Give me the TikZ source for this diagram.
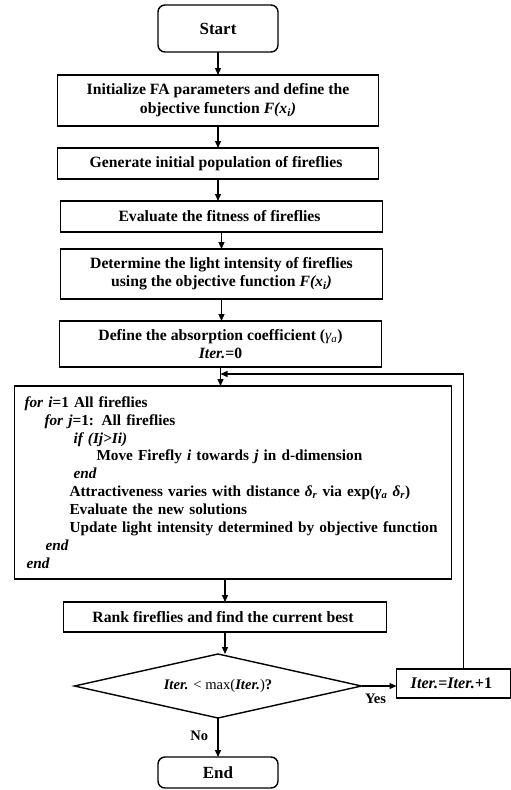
\documentclass[tikz,border=0pt]{standalone}
\usepackage{fontspec}
\setmainfont{Liberation Serif}
\usepackage{tikz}
\usetikzlibrary{positioning}
\usetikzlibrary{arrows.meta,shapes.geometric}

\begin{document}
\begin{tikzpicture}[
  font=\fontsize{15.7}{19}\selectfont\bfseries,
  box/.style={draw, line width=1.4pt, outer sep=0pt, minimum width=321pt, align=center, inner sep=2pt},
  term/.style={box, rounded corners=7pt, minimum width=120pt, font=\fontsize{17}{19}\selectfont\bfseries},
  arr/.style={-{Triangle[length=7pt,width=6pt]}, line width=1.3pt},
]
\useasboundingbox (0,0) rectangle (511pt,-790pt);
\node[term, minimum height=47pt] at (218pt,-28.5pt) (n0) {Start};
\node[box, minimum height=51pt, below=23pt of n0] (n1) {
  Initialize FA parameters and define the\\
  objective function \textit{F(x\textsubscript{i})}
};
\node[box, minimum height=31pt, below=22pt of n1] (n2) {
  Generate initial population of fireflies
};
\node[box, minimum width=322pt, minimum height=31pt, below=22pt of n2, xshift=3.5pt] (n3) {
  Evaluate the fitness of fireflies
};
\node[box, minimum width=322pt, minimum height=50pt, below=17pt of n3, font=\fontsize{15.7}{18}\selectfont\bfseries] (n4) {
  Determine the light intensity of fireflies\\
  using the objective function \textit{F(x\textsubscript{i})}
};
\node[box, minimum width=322pt, minimum height=46pt, below=22pt of n4, xshift=-1pt, font=\fontsize{15.7}{18}\selectfont\bfseries] (n5) {
  Define the absorption coefficient ({\mdseries\textit{γ\textsubscript{a}}})\\
  \textit{Iter.}=0
};
\coordinate[below=7pt of n5.south] (merge);
\node[box, minimum width=437pt, minimum height=193pt, text width=417pt, align=left,
      inner xsep=10pt, below=19pt of n5, xshift=12.5pt,
      font=\fontsize{15.3}{17.9}\selectfont\bfseries] (n6) {%
\textit{for i}=1 All fireflies\\
\hspace*{20pt}\textit{for j}=1: All fireflies\\
\hspace*{49pt}\textit{if (Ij>Ii)}\\
\hspace*{72pt}Move Firefly \textit{i} towards \textit{j} in d-dimension\\
\hspace*{49pt}\textit{end}\\
\hspace*{45pt}Attractiveness varies with distance \textit{δ\textsubscript{r}} via exp(\textit{γ\textsubscript{a} δ\textsubscript{r}})\\
\hspace*{45pt}Evaluate the new solutions\\
\hspace*{45pt}Update light intensity determined by objective function\\
\hspace*{21pt}\textit{end}\\
\hspace*{2pt}\textit{end}};
\node[box, minimum width=323pt, minimum height=30pt, below=23pt of n6, xshift=-8pt] (n7) {
  Rank fireflies and find the current best
};
\node[diamond, draw, line width=1.4pt, outer sep=0pt, shape aspect=4.5, inner sep=0pt,
      minimum width=287pt, minimum height=64pt, below=22pt of n7, xshift=-7pt,
      font=\fontsize{14.6}{18}\selectfont\bfseries] (n8) {
  \textit{Iter.} {\mdseries <\ max(}\textit{Iter.}{\mdseries )}?
};
\node[box, minimum width=114pt, minimum height=29pt, right=35pt of n8, yshift=2.5pt,
      font=\fontsize{16.2}{18}\selectfont\bfseries] (n9) {
  \textit{Iter.=Iter.}+1
};
\node[term, minimum height=31pt, below=39pt of n8] (n10) {End};

\draw[arr] (n0.south) -- (n0.south |- n1.north);
\draw[arr] (n1.south) -- (n1.south |- n2.north);
\draw[arr] (n2.south) -- (n2.south |- n3.north);
\draw[arr] (n3.south) -- (n3.south |- n4.north);
\draw[arr] (n4.south) -- (n4.south |- n5.north);
\draw[arr] (n5.south) -- (n5.south |- n6.north);
\draw[arr] (n6.south -| n7.north) -- (n7.north);
\draw[arr] (n7.south) -- (n7.south |- n8.north);
\draw[arr] (n8.east) -- node[below=4pt, pos=0.4, font=\fontsize{14.5}{18}\selectfont\bfseries]{Yes} (n8.east -| n9.west);
\draw[arr] (n8.south) -- node[left=6pt, pos=0.45, font=\fontsize{14.5}{18}\selectfont\bfseries]{No} (n10.north);
\draw[arr] ([xshift=10pt]n9.north) |- (merge);
\end{tikzpicture}
\end{document}
